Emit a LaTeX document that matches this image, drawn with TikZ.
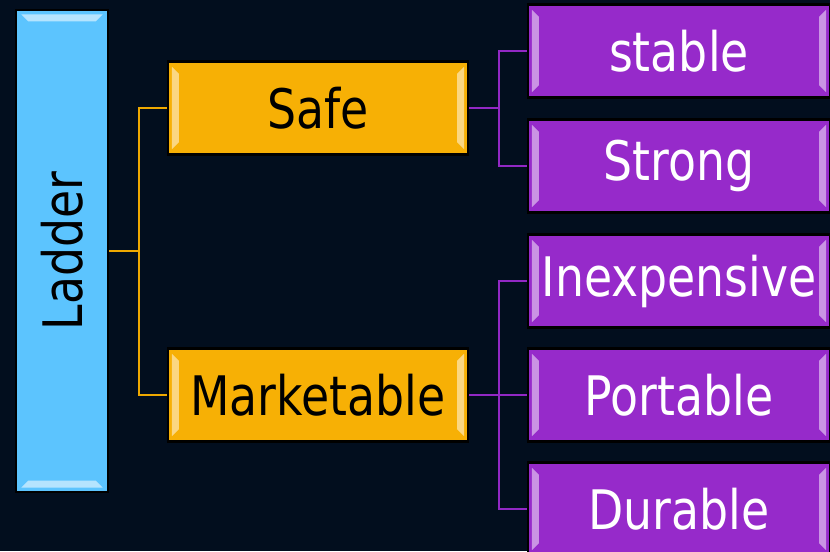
\documentclass[tikz,border=0pt]{standalone}
\usepackage{fontspec}
\setmainfont{DejaVu Sans}[FakeStretch=0.84]
\definecolor{slideback}{RGB}{2,14,30}
\definecolor{ladderblue}{RGB}{92,196,254}
\definecolor{safeorange}{RGB}{247,176,5}
\definecolor{traitpurple}{RGB}{150,42,202}
\definecolor{linkorange}{RGB}{238,168,0}
\definecolor{linkpurple}{RGB}{146,40,196}

\begin{document}
\begin{tikzpicture}[x=0.02cm,y=-0.02cm]

%
% Styles
%
\tikzstyle{box} = [rectangle,draw=black,line width=1.2pt,inner sep=0pt,
  font=\fontsize{31}{36}\selectfont]
\tikzstyle{sidebevel} = [path picture={
  \draw[white,opacity=.4,line width=1.4pt]
    (path picture bounding box.south west) rectangle (path picture bounding box.north east);
  \fill[white,opacity=.5]
    ([shift={(2.2pt,-3pt)}]path picture bounding box.north west) -- ++(4pt,-4pt)
    -- ([shift={(6.2pt,7pt)}]path picture bounding box.south west) -- ++(-4pt,-4pt) -- cycle;
  \fill[white,opacity=.5]
    ([shift={(-2.2pt,-3pt)}]path picture bounding box.north east) -- ++(-4pt,-4pt)
    -- ([shift={(-6.2pt,7pt)}]path picture bounding box.south east) -- ++(4pt,-4pt) -- cycle;
}]
\tikzstyle{endbevel} = [path picture={
  \draw[white,opacity=.4,line width=1.4pt]
    (path picture bounding box.south west) rectangle (path picture bounding box.north east);
  \fill[white,opacity=.55]
    ([shift={(3pt,-2.5pt)}]path picture bounding box.north west) -- ++(4pt,-4pt)
    -- ([shift={(-7pt,-6.5pt)}]path picture bounding box.north east) -- ++(4pt,4pt) -- cycle;
  \fill[white,opacity=.55]
    ([shift={(3pt,2.5pt)}]path picture bounding box.south west) -- ++(4pt,4pt)
    -- ([shift={(-7pt,6.5pt)}]path picture bounding box.south east) -- ++(4pt,-4pt) -- cycle;
}]
\tikzstyle{root} = [box,endbevel,fill=ladderblue,text=black,minimum width=1.84cm,minimum height=9.64cm]
\tikzstyle{branch} = [box,sidebevel,fill=safeorange,text=black,minimum width=6cm,minimum height=1.86cm]
\tikzstyle{leaf} = [box,sidebevel,fill=traitpurple,text=white,minimum width=6.04cm,minimum height=1.86cm]
\tikzstyle{olink} = [draw=linkorange,line width=1.1pt]
\tikzstyle{plink} = [draw=linkpurple,line width=1.1pt]

\fill[slideback] (0,0) rectangle (830,551);
\useasboundingbox (0,0) rectangle (830,551);

\node[root] (ladder) at ( 62,251) {\rotatebox{90}{Ladder}};
\node[branch] (safe) at (318,108) {Safe};
\node[branch] (market) at (318,395) {Marketable};
\node[leaf] (stable) at (679, 51) {stable};
\node[leaf] (strong) at (679,166) {Strong};
\node[leaf] (cheap) at (679,281) {Inexpensive};
\node[leaf] (portable) at (679,395) {Portable};
\node[leaf] (durable) at (679,509) {Durable};

\draw[olink] (ladder.east) -- ++(30,0) |- (safe.west);
\draw[olink] (ladder.east) -- ++(30,0) |- (market.west);
\draw[plink] (safe.east) -- ++(30,0) |- (stable.west);
\draw[plink] (safe.east) -- ++(30,0) |- (strong.west);
\draw[plink] (market.east) -- ++(30,0) |- (cheap.west);
\draw[plink] (market.east) -- (portable.west);
\draw[plink] (market.east) -- ++(30,0) |- (durable.west);

\end{tikzpicture}
\end{document}
